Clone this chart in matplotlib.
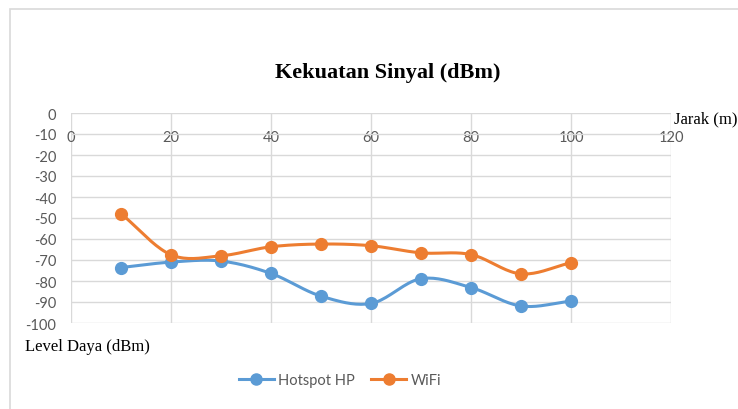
import matplotlib
matplotlib.use("Agg")
import matplotlib.pyplot as plt
import numpy as np
from matplotlib.lines import Line2D
from matplotlib.patches import Rectangle

plt.rcParams['axes.unicode_minus'] = False

# data
jarak = [10, 20, 30, 40, 50, 60, 70, 80, 90, 100]
hotspot_hp = [-73.6, -71.0, -70.5, -76.4, -87.2, -90.7, -78.9, -83.1, -91.9, -89.6]
wifi = [-47.9, -67.5, -68.0, -63.7, -62.4, -63.2, -66.6, -67.4, -76.6, -71.3]
x_ticks = [0, 20, 40, 60, 80, 100, 120]
y_ticks = list(range(0, -101, -10))

blue = '#5B9BD5'
orange = '#ED7D31'
grey_txt = '#595959'


def smooth(xs, ys, n=20):
    # catmull-rom curve through the points, like Excel's "smoothed line"
    xs = np.asarray(xs, float)
    ys = np.asarray(ys, float)
    px = np.concatenate([[2 * xs[0] - xs[1]], xs, [2 * xs[-1] - xs[-2]]])
    py = np.concatenate([[2 * ys[0] - ys[1]], ys, [2 * ys[-1] - ys[-2]]])
    out_x, out_y = [], []
    t = np.linspace(0, 1, n, endpoint=False)
    for i in range(1, len(px) - 2):
        for p, o in ((px, out_x), (py, out_y)):
            p0, p1, p2, p3 = p[i - 1], p[i], p[i + 1], p[i + 2]
            o.extend(0.5 * ((2 * p1) + (-p0 + p2) * t
                            + (2 * p0 - 5 * p1 + 4 * p2 - p3) * t ** 2
                            + (-p0 + 3 * p1 - 3 * p2 + p3) * t ** 3))
    out_x.append(xs[-1])
    out_y.append(ys[-1])
    return out_x, out_y


fig = plt.figure(figsize=(7.38, 4.10), dpi=100)
fig.patches.append(Rectangle((10 / 738, -0.1), 1.2, 1.1 - 10 / 410,
                             transform=fig.transFigure, fill=False,
                             edgecolor='#d9d9d9', linewidth=1.2))

ax = fig.add_axes([71 / 738, 86 / 410, 600 / 738, 210 / 410])

for ys, c in ((hotspot_hp, blue), (wifi, orange)):
    sx, sy = smooth(jarak, ys)
    ax.plot(sx, sy, color=c, linewidth=2.2, zorder=3)
    ax.plot(jarak, ys, 'o', color=c, markersize=8.5, zorder=4)

ax.set_xlim(0, 120)
ax.set_ylim(-100, 0)
ax.set_xticks(x_ticks)
ax.set_yticks(y_ticks)
ax.grid(True, color='#d9d9d9', linewidth=1)
ax.set_axisbelow(True)
for s in ax.spines.values():
    s.set_visible(False)

ax.tick_params(axis='x', top=False, bottom=False, labeltop=True,
               labelbottom=False, pad=-26, labelsize=10.5, labelcolor=grey_txt)
ax.tick_params(axis='y', left=False, pad=7, labelsize=10.5, labelcolor=grey_txt)
for lbl in ax.get_xticklabels() + ax.get_yticklabels():
    lbl.set_fontfamily('Lato')

fig.text(388 / 738, 1 - 73 / 410, 'Kekuatan Sinyal (dBm)', ha='center', va='center',
         fontsize=16, fontweight='bold', family='Liberation Serif')
fig.text(674 / 738, 1 - 119 / 410, 'Jarak (m)', ha='left', va='center',
         fontsize=12, family='Liberation Serif')
fig.text(25 / 738, 1 - 347 / 410, 'Level Daya (dBm)', ha='left', va='center',
         fontsize=12, family='Liberation Serif')

handles = [Line2D([], [], color=blue, marker='o', linewidth=2.2, markersize=8),
           Line2D([], [], color=orange, marker='o', linewidth=2.2, markersize=8)]
leg = fig.legend(handles, ['Hotspot HP', 'WiFi'], loc='center',
                 bbox_to_anchor=(340 / 738, 1 - 381 / 410), ncol=2, frameon=False,
                 handlelength=2.4, handletextpad=0.3, columnspacing=1.1,
                 prop={'family': 'Lato', 'size': 10.5})
for t in leg.get_texts():
    t.set_color(grey_txt)

fig.savefig('out.png', dpi=100)
